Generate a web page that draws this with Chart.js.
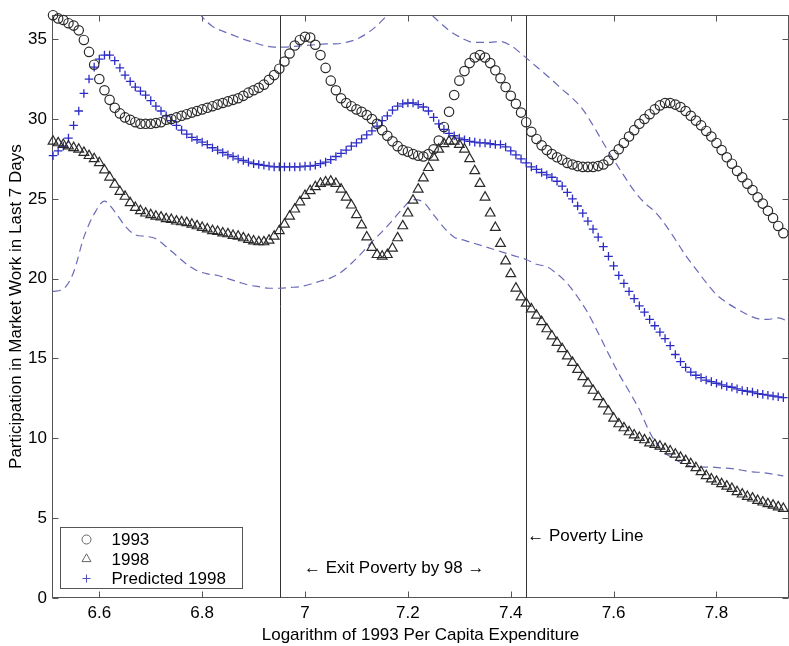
<!DOCTYPE html>
<html>
<head>
<meta charset="utf-8">
<script src="https://cdn.jsdelivr.net/npm/chart.js@4.4.1/dist/chart.umd.min.js"></script>
<style>
  html, body { margin: 0; padding: 0; background: #fff; overflow: hidden; }
  #wrap { width: 789px; height: 646px; }
</style>
</head>
<body>
<div id="wrap"><canvas id="mainChart" width="789" height="646"></canvas></div>
<script>
// log per capita expenditure grid shared by the three marker series
const logExp = [
  6.51, 6.52, 6.53, 6.54, 6.55, 6.56, 6.57, 6.58, 6.59, 6.60,
  6.61, 6.62, 6.63, 6.64, 6.65, 6.66, 6.67, 6.68, 6.69, 6.70,
  6.71, 6.72, 6.73, 6.74, 6.75, 6.76, 6.77, 6.78, 6.79, 6.80,
  6.81, 6.82, 6.83, 6.84, 6.85, 6.86, 6.87, 6.88, 6.89, 6.90,
  6.91, 6.92, 6.93, 6.94, 6.95, 6.96, 6.97, 6.98, 6.99, 7.00,
  7.01, 7.02, 7.03, 7.04, 7.05, 7.06, 7.07, 7.08, 7.09, 7.10,
  7.11, 7.12, 7.13, 7.14, 7.15, 7.16, 7.17, 7.18, 7.19, 7.20,
  7.21, 7.22, 7.23, 7.24, 7.25, 7.26, 7.27, 7.28, 7.29, 7.30,
  7.31, 7.32, 7.33, 7.34, 7.35, 7.36, 7.37, 7.38, 7.39, 7.40,
  7.41, 7.42, 7.43, 7.44, 7.45, 7.46, 7.47, 7.48, 7.49, 7.50,
  7.51, 7.52, 7.53, 7.54, 7.55, 7.56, 7.57, 7.58, 7.59, 7.60,
  7.61, 7.62, 7.63, 7.64, 7.65, 7.66, 7.67, 7.68, 7.69, 7.70,
  7.71, 7.72, 7.73, 7.74, 7.75, 7.76, 7.77, 7.78, 7.79, 7.80,
  7.81, 7.82, 7.83, 7.84, 7.85, 7.86, 7.87, 7.88, 7.89, 7.90,
  7.91, 7.92, 7.93
];

const part1993 = [
  36.5, 36.3, 36.2, 36.0, 35.85, 35.55, 34.95, 34.2, 33.4, 32.5,
  31.8, 31.2, 30.7, 30.35, 30.1, 29.95, 29.8, 29.7, 29.7, 29.7,
  29.75, 29.8, 29.95, 30.0, 30.1, 30.2, 30.3, 30.4, 30.5, 30.6,
  30.7, 30.8, 30.9, 31.0, 31.1, 31.2, 31.3, 31.45, 31.65, 31.8,
  31.95, 32.15, 32.45, 32.75, 33.15, 33.6, 34.1, 34.6, 34.95, 35.15,
  35.1, 34.65, 34.0, 33.2, 32.4, 31.8, 31.3, 31.0, 30.8, 30.6,
  30.45, 30.25, 30.0, 29.7, 29.3, 28.95, 28.6, 28.3, 28.05, 27.95,
  27.8, 27.7, 27.65, 27.8, 28.1, 28.65, 29.5, 30.45, 31.5, 32.4,
  33.0, 33.5, 33.85, 34.0, 33.85, 33.5, 33.05, 32.55, 32.0, 31.45,
  30.95, 30.4, 29.8, 29.2, 28.75, 28.35, 28.05, 27.8, 27.6, 27.45,
  27.25, 27.15, 27.05, 27.0, 27.0, 27.0, 27.05, 27.15, 27.4, 27.75,
  28.1, 28.5, 28.9, 29.3, 29.7, 30.0, 30.3, 30.6, 30.85, 31.0,
  31.0, 30.9, 30.75, 30.5, 30.2, 29.9, 29.6, 29.25, 28.9, 28.5,
  28.05, 27.6, 27.2, 26.75, 26.35, 25.95, 25.55, 25.1, 24.7, 24.25,
  23.8, 23.3, 22.85
];

const part1998 = [
  28.6, 28.5, 28.4, 28.3, 28.2, 28.1, 27.9, 27.7, 27.5, 27.25,
  26.8, 26.35, 25.9, 25.45, 25.15, 24.75, 24.45, 24.25, 24.1, 24.0,
  23.9, 23.85, 23.75, 23.7, 23.6, 23.55, 23.5, 23.4, 23.3, 23.2,
  23.1, 23.0, 22.95, 22.85, 22.8, 22.7, 22.65, 22.55, 22.45, 22.35,
  22.3, 22.3, 22.4, 22.65, 23.0, 23.4, 23.9, 24.35, 24.8, 25.2,
  25.5, 25.75, 25.95, 26.05, 26.1, 25.95, 25.6, 25.1, 24.6, 24.0,
  23.35, 22.6, 21.95, 21.5, 21.4, 21.5, 21.9, 22.55, 23.3, 24.1,
  24.9, 25.6, 26.3, 26.95, 27.6, 28.1, 28.45, 28.6, 28.6, 28.4,
  28.1, 27.5, 26.75, 25.95, 25.1, 24.1, 23.2, 22.2, 21.1, 20.3,
  19.4, 18.85, 18.45, 18.1, 17.7, 17.3, 16.85, 16.4, 16.0, 15.6,
  15.15, 14.75, 14.3, 13.85, 13.45, 13.0, 12.6, 12.15, 11.7, 11.25,
  10.9, 10.65, 10.4, 10.2, 10.05, 9.9, 9.7, 9.6, 9.5, 9.35,
  9.2, 9.0, 8.8, 8.6, 8.4, 8.15, 7.9, 7.65, 7.45, 7.3,
  7.15, 7.0, 6.85, 6.65, 6.5, 6.35, 6.25, 6.1, 6.0, 5.9,
  5.8, 5.7, 5.6
];

const predicted1998 = [
  27.7, 28.0, 28.3, 28.8, 29.6, 30.5, 31.6, 32.5, 33.25, 33.75,
  34.0, 34.0, 33.65, 33.2, 32.75, 32.35, 32.0, 31.75, 31.5, 31.15,
  30.8, 30.5, 30.2, 29.9, 29.6, 29.3, 29.05, 28.85, 28.7, 28.55,
  28.4, 28.2, 28.05, 27.9, 27.75, 27.65, 27.5, 27.4, 27.3, 27.2,
  27.15, 27.1, 27.05, 27.0, 27.0, 27.0, 27.0, 27.0, 27.0, 27.05,
  27.05, 27.1, 27.2, 27.3, 27.45, 27.65, 27.85, 28.05, 28.3, 28.5,
  28.75, 29.0, 29.25, 29.55, 29.9, 30.2, 30.55, 30.8, 30.95, 31.0,
  31.0, 30.9, 30.75, 30.5, 30.1, 29.7, 29.35, 29.1, 28.95, 28.8,
  28.7, 28.6, 28.55, 28.5, 28.5, 28.45, 28.4, 28.4, 28.25, 28.0,
  27.75, 27.5, 27.25, 27.0, 26.85, 26.65, 26.5, 26.35, 26.1, 25.8,
  25.4, 25.0, 24.55, 24.1, 23.6, 23.1, 22.6, 22.0, 21.4, 20.8,
  20.2, 19.7, 19.2, 18.75, 18.3, 17.9, 17.45, 17.05, 16.65, 16.25,
  15.8, 15.25, 14.8, 14.45, 14.15, 13.95, 13.8, 13.65, 13.55, 13.45,
  13.35, 13.25, 13.2, 13.1, 13.0, 12.95, 12.9, 12.8, 12.75, 12.7,
  12.65, 12.6, 12.55
];

// confidence band around the prediction (dashed)
const upperX = [
  6.78, 6.80, 6.82, 6.84, 6.86, 6.88, 6.90, 6.92, 6.94, 6.96,
  6.98, 7.00, 7.02, 7.04, 7.06, 7.08, 7.10, 7.12, 7.14, 7.16,
  7.18, 7.20, 7.22, 7.24, 7.26, 7.28, 7.30, 7.32, 7.34, 7.36,
  7.38, 7.40, 7.42, 7.44, 7.46, 7.48, 7.50, 7.52, 7.54, 7.56,
  7.58, 7.60, 7.62, 7.64, 7.66, 7.68, 7.70, 7.72, 7.74, 7.76,
  7.78, 7.80, 7.82, 7.84, 7.86, 7.88, 7.90, 7.92, 7.94
];
const upperBand = [
  37.3, 36.4, 35.8, 35.5, 35.25, 35.0, 34.8, 34.6, 34.5, 34.5,
  34.55, 34.6, 34.65, 34.7, 34.7, 34.8, 35.0, 35.35, 35.85, 36.5,
  37.0, 37.3, 37.2, 36.7, 36.1, 35.55, 35.15, 34.85, 34.8, 34.8,
  34.85, 34.6, 34.1, 33.55, 33.0, 32.45, 31.85, 31.3, 30.6, 29.6,
  28.5, 27.45, 26.45, 25.5, 24.75, 24.2, 23.4, 22.45, 21.45, 20.6,
  19.75, 19.0, 18.5, 18.1, 17.75, 17.5, 17.45, 17.55, 17.3
];

const lowerX = [
  6.51, 6.53, 6.55, 6.57, 6.59, 6.61, 6.63, 6.65, 6.67, 6.69,
  6.71, 6.73, 6.75, 6.77, 6.79, 6.81, 6.83, 6.85, 6.87, 6.89,
  6.91, 6.93, 6.95, 6.97, 6.99, 7.01, 7.03, 7.05, 7.07, 7.09,
  7.11, 7.13, 7.15, 7.17, 7.19, 7.21, 7.23, 7.25, 7.27, 7.29,
  7.31, 7.33, 7.35, 7.37, 7.39, 7.41, 7.43, 7.45, 7.47, 7.49,
  7.51, 7.53, 7.55, 7.57, 7.59, 7.61, 7.63, 7.65, 7.67, 7.69,
  7.71, 7.73, 7.75, 7.77, 7.79, 7.81, 7.83, 7.85, 7.87, 7.89,
  7.91, 7.93
];
const lowerBand = [
  19.2, 19.35, 20.4, 22.6, 24.05, 24.85, 24.2, 23.3, 22.75, 22.65,
  22.5, 22.0, 21.45, 20.9, 20.5, 20.3, 20.2, 20.0, 19.8, 19.6,
  19.5, 19.4, 19.4, 19.45, 19.5, 19.65, 19.85, 20.05, 20.4, 20.95,
  21.6, 22.3, 22.95, 23.65, 24.4, 24.95, 24.8, 24.0, 23.2, 22.6,
  22.4, 22.2, 22.0, 21.8, 21.6, 21.4, 21.2, 20.9, 20.75, 20.3,
  19.7, 18.85, 17.85, 16.6, 15.3, 14.05, 12.95, 11.8, 10.4, 9.35,
  8.85, 8.5, 8.25, 8.2, 8.2, 8.15, 8.1, 8.0, 7.9, 7.85,
  7.75, 7.65
];

const xTicks = [6.6, 6.8, 7.0, 7.2, 7.4, 7.6, 7.8];
const yTicks = [0, 5, 10, 15, 20, 25, 30, 35];

// left line: households that exit poverty by 98; right line: poverty line
const cutoffs = [6.951, 7.43];

const FONT = '"Liberation Sans", Arial, Helvetica, sans-serif';
Chart.defaults.font.family = FONT;
Chart.defaults.font.size = 17;
Chart.defaults.color = '#000';

const pts = (xs, ys) => xs.map((x, i) => ({ x: x, y: ys[i] }));

function drawMarker(ctx, style, cx, cy, r) {
  ctx.beginPath();
  if (style === 'circle') {
    ctx.arc(cx, cy, r, 0, Math.PI * 2);
  } else if (style === 'triangle') {
    const h = r * 1.5, w = r * Math.sqrt(3) / 2;
    ctx.moveTo(cx, cy - r);
    ctx.lineTo(cx + w, cy - r + h);
    ctx.lineTo(cx - w, cy - r + h);
    ctx.closePath();
  } else {
    ctx.moveTo(cx - r, cy); ctx.lineTo(cx + r, cy);
    ctx.moveTo(cx, cy - r); ctx.lineTo(cx, cy + r);
  }
  ctx.stroke();
}

const decor = {
  id: 'decor',
  beforeDatasetsDraw(chart) {
    const { ctx, chartArea: a, scales: { x, y } } = chart;
    const L = Math.round(a.left) + 0.5, R = Math.round(a.right) - 0.5;
    const T = Math.round(a.top) + 0.5, B = Math.round(a.bottom) - 0.5;
    ctx.save();
    ctx.lineWidth = 1;
    ctx.strokeStyle = '#555';
    ctx.strokeRect(L, T, R - L, B - T);

    // inward tick marks on all four sides
    ctx.beginPath();
    xTicks.forEach(v => {
      const px = Math.round(x.getPixelForValue(v)) + 0.5;
      ctx.moveTo(px, B); ctx.lineTo(px, B - 6);
      ctx.moveTo(px, T); ctx.lineTo(px, T + 6);
    });
    yTicks.forEach(v => {
      const py = Math.round(y.getPixelForValue(v)) + 0.5;
      ctx.moveTo(L, py); ctx.lineTo(L + 6, py);
      ctx.moveTo(R, py); ctx.lineTo(R - 6, py);
    });
    ctx.stroke();

    ctx.strokeStyle = '#333';
    ctx.beginPath();
    cutoffs.forEach(v => {
      const px = Math.round(x.getPixelForValue(v)) + 0.5;
      ctx.moveTo(px, T); ctx.lineTo(px, B);
    });
    ctx.stroke();
    ctx.restore();
  },
  afterDatasetsDraw(chart) {
    const { ctx, chartArea: a, scales: { x, y } } = chart;
    ctx.save();
    ctx.font = '17px ' + FONT;
    ctx.fillStyle = '#000';
    ctx.textBaseline = 'middle';

    ctx.textAlign = 'center';
    ctx.fillText('\u2190 Exit Poverty by 98 \u2192', x.getPixelForValue(7.1735), y.getPixelForValue(1.87));
    ctx.textAlign = 'left';
    ctx.fillText('\u2190 Poverty Line', x.getPixelForValue(7.432), y.getPixelForValue(3.85));

    // legend box, lower left of the axes
    const bx = Math.round(a.left) + 8.5, by = Math.round(a.bottom) - 70.5;
    ctx.fillStyle = '#fff';
    ctx.fillRect(bx, by, 182, 61);
    ctx.strokeStyle = '#555';
    ctx.lineWidth = 1;
    ctx.strokeRect(bx, by, 182, 61);

    const rows = [
      { label: '1993', style: 'circle', color: '#666', r: 4.5 },
      { label: '1998', style: 'triangle', color: '#666', r: 5.2 },
      { label: 'Predicted 1998', style: 'cross', color: '#5050c0', r: 4 }
    ];
    rows.forEach((row, i) => {
      const cy = by + 12 + i * 19.5;
      ctx.strokeStyle = row.color;
      drawMarker(ctx, row.style, bx + 26, cy, row.r);
      ctx.fillStyle = '#000';
      ctx.fillText(row.label, bx + 51, cy + 1);
    });
    ctx.restore();
  }
};

const ctx = document.getElementById('mainChart').getContext('2d');
const chart = new Chart(ctx, {
  type: 'scatter',
  data: {
    datasets: [
      {
        label: '1993',
        data: pts(logExp, part1993),
        pointStyle: 'circle',
        pointRadius: 4.7,
        borderColor: '#2a2a2a',
        backgroundColor: 'rgba(0,0,0,0)',
        borderWidth: 1.2,
        clip: false
      },
      {
        label: '1998',
        data: pts(logExp, part1998),
        pointStyle: 'triangle',
        pointRadius: 5.6,
        borderColor: '#2a2a2a',
        backgroundColor: 'rgba(0,0,0,0)',
        borderWidth: 1.2,
        clip: false
      },
      {
        label: 'Predicted 1998',
        data: pts(logExp, predicted1998),
        pointStyle: 'cross',
        pointRadius: 4.3,
        borderColor: '#2c2cc4',
        borderWidth: 1.3,
        clip: false
      },
      {
        label: 'upper',
        data: pts(upperX, upperBand),
        showLine: true,
        pointRadius: 0,
        borderColor: '#6a6ab8',
        borderWidth: 1.2,
        borderDash: [8, 5],
        cubicInterpolationMode: 'monotone'
      },
      {
        label: 'lower',
        data: pts(lowerX, lowerBand),
        showLine: true,
        pointRadius: 0,
        borderColor: '#6a6ab8',
        borderWidth: 1.2,
        borderDash: [8, 5],
        cubicInterpolationMode: 'monotone'
      }
    ]
  },
  options: {
    responsive: false,
    animation: false,
    events: [],
    // right edge of the axes box sits just past the canvas edge
    layout: { autoPadding: false, padding: { top: 13, right: -2, bottom: 0, left: 0 } },
    plugins: {
      legend: { display: false },
      tooltip: { enabled: false }
    },
    scales: {
      x: {
        type: 'linear',
        min: 6.508,
        max: 7.941,
        afterBuildTicks: s => { s.ticks = xTicks.map(v => ({ value: v })); },
        afterFit: s => { s.height = 48; },
        grid: { display: false, drawTicks: false },
        border: { display: false },
        ticks: {
          padding: 5,
          maxRotation: 0,
          autoSkip: false,
          callback: v => String(+(+v).toFixed(1))
        },
        title: {
          display: true,
          text: 'Logarithm of 1993 Per Capita Expenditure',
          padding: { top: 6, bottom: 0 }
        }
      },
      y: {
        type: 'linear',
        min: 0,
        max: 36.5,
        afterBuildTicks: s => { s.ticks = yTicks.map(v => ({ value: v })); },
        afterFit: s => { s.width = 52; },
        grid: { display: false, drawTicks: false },
        border: { display: false },
        ticks: { padding: 5, autoSkip: false },
        title: {
          display: true,
          text: 'Participation in Market Work in Last 7 Days',
          padding: { top: 6, bottom: 0 }
        }
      }
    }
  },
  plugins: [decor]
});
</script>
</body>
</html>
